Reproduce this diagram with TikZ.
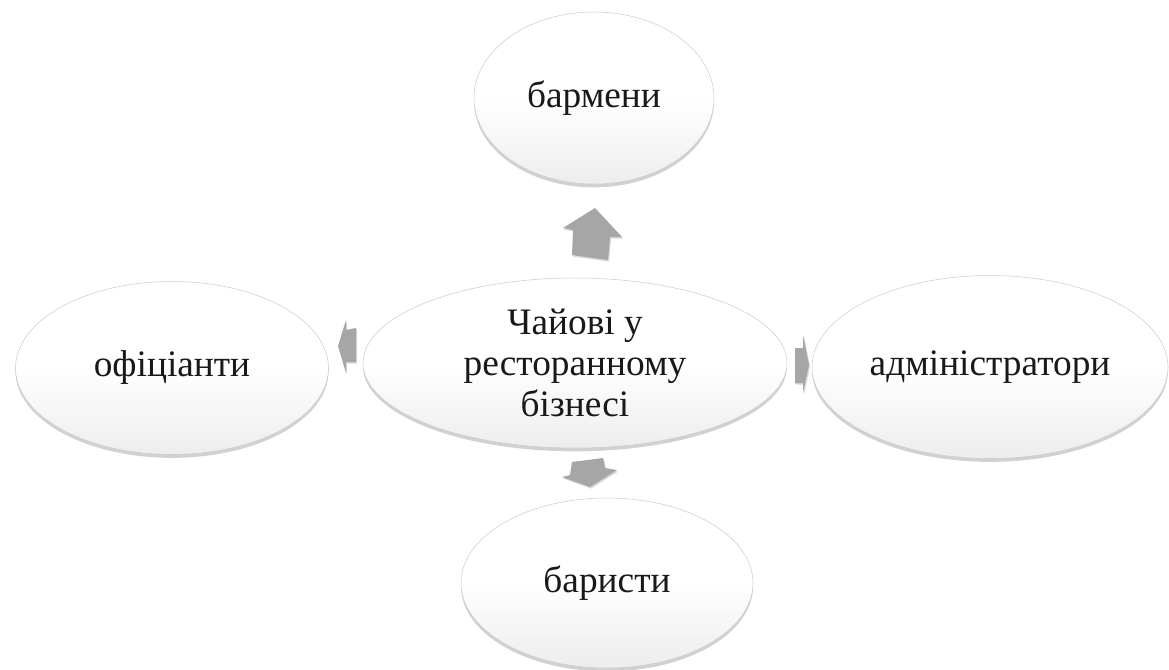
\documentclass[tikz,border=0pt]{standalone}
\usepackage{fontspec}
\newfontfamily\tnrfont{LiberationSerif}[Extension=.ttf, UprightFont=*-Regular, BoldFont=*-Bold]
\usetikzlibrary{shapes.geometric,shadows}
\definecolor{arrowgray}{RGB}{166,166,166}
\definecolor{rimgray}{RGB}{205,205,205}
\definecolor{inkgray}{RGB}{25,25,25}
\begin{document}
\begin{tikzpicture}[x=0.75pt,y=-0.75pt,
  bubble/.style={ellipse, draw=rimgray, line width=0.4pt, top color=white, bottom color=black!7,
    middle color=white, shading angle=0,
    inner sep=0pt, text=inkgray, font=\tnrfont\fontsize{28}{30.5}\selectfont, align=center,
    drop shadow={shadow xshift=0pt, shadow yshift=-2.5pt, opacity=0.3, fill=black!60}},
  blockarrow/.style={fill=arrowgray, draw=none,
    drop shadow={shadow xshift=0.8pt, shadow yshift=-1.2pt, opacity=0.25, fill=black!60}}]
\useasboundingbox (0,0) rectangle (1169,669);

\node[bubble, minimum width=318pt, minimum height=127.5pt] (hub) at (575,363)
  {Чайові у\\ресторанному\\бізнесі};
\node[bubble, minimum width=180pt, minimum height=129pt] (top) at (594,98) {бармени};
\node[bubble, minimum width=234.75pt, minimum height=129.75pt] (left) at (172,368) {офіціанти};
\node[bubble, minimum width=267pt, minimum height=137.25pt] (right) at (990,367) {адміністратори};
\node[bubble, minimum width=219pt, minimum height=127.5pt] (bottom) at (607,583) {баристи};

% block arrows from the hub to each bubble
\path[blockarrow] (595,208) -- (622,237) -- (610,237) -- (608,260) -- (572,255)
  -- (573,230) -- (563,228) -- cycle;
\path[blockarrow] (572,462) -- (603,458) -- (605,468) -- (617,470) -- (590,487)
  -- (562,477) -- (570,475) -- cycle;
\path[blockarrow] (338,346) -- (346,320) -- (346,330) -- (356,328) -- (356,362)
  -- (346,362) -- (346,373) -- cycle;
\path[blockarrow] (809,365) -- (803,335) -- (803,348) -- (795,348) -- (795,383)
  -- (803,383) -- (803,393) -- cycle;
\end{tikzpicture}
\end{document}
